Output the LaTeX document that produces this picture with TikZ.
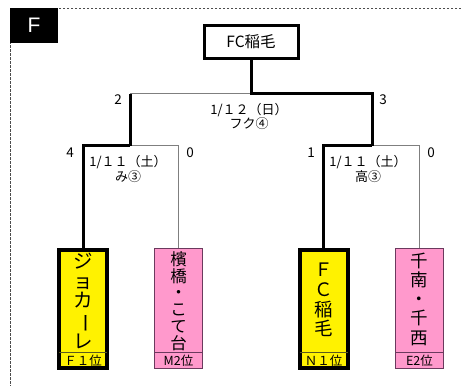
\documentclass[tikz,border=0pt]{standalone}
\usepackage{fontspec}
\usepackage{graphicx}
\setmainfont{Noto Sans CJK JP}
\newfontfamily\latinf{Liberation Sans}
\definecolor{yel}{HTML}{FFF200}
\definecolor{pnk}{HTML}{FF99CC}
\definecolor{pbd}{HTML}{6B3A5E}
\definecolor{lgray}{HTML}{7F7F7F}
\definecolor{ysep}{HTML}{5A5A20}
\newcommand{\vbar}{\rotatebox[origin=c]{-90}{ー}}
\begin{document}
\begin{tikzpicture}[x=1pt,y=-1pt,
  win/.style={line width=3pt, black, line join=miter},
  lose/.style={line width=1pt, lgray},
  ybox/.style={draw=black, line width=4pt, fill=yel, minimum width=48pt, minimum height=118.5pt, inner sep=0pt},
  pbox/.style={draw=pbd, line width=1.2pt, fill=pnk, minimum width=47.8pt, minimum height=120pt, inner sep=0pt},
  score/.style={font=\fontsize{13.5}{13.5}\selectfont, inner sep=0pt, text=black},
  datel/.style={font=\fontsize{13}{12}\selectfont, inner sep=0pt, align=center, text=black},
  rank/.style={font=\fontsize{12.5}{12.5}\selectfont, inner sep=0pt, text=black},
  vname/.style={inner sep=0pt, align=center, text=black},
  ysepl/.style={draw=ysep, line width=1pt, shorten <=2pt, shorten >=2pt},
  psepl/.style={draw=pbd, line width=1pt, shorten <=0.6pt, shorten >=0.6pt}
]
\useasboundingbox (0,0) rectangle (461,386);
% dashed frame
\draw[dash pattern=on 2.5pt off 1.5pt, line width=1pt, black!70] (461,8) -- (10,8) -- (10,386);
% title tag
\node[fill=black, text=white, minimum width=48pt, minimum height=35pt, inner sep=0pt,
      font=\latinf\fontsize{21}{21}\selectfont] (flab) at (34,25) {F};
% top box
\node[draw, line width=3pt, minimum width=94pt, minimum height=33pt, inner sep=0pt,
      font=\fontsize{15.5}{15.5}\selectfont] (top) at (251,42) {FC稲毛};
% team boxes
\node[ybox] (jo) at (83.2,308.75) {};
\node[pbox] (seki) at (178.5,308.5) {};
\node[ybox] (fcn) at (323.6,308.75) {};
\node[pbox] (chi) at (419.5,308.5) {};
\coordinate (sepy) at (0,352);
\draw[ysepl] (jo.west |- sepy) -- (jo.east |- sepy);
\draw[psepl] (seki.west |- sepy) -- (seki.east |- sepy);
\draw[ysepl] (fcn.west |- sepy) -- (fcn.east |- sepy);
\draw[psepl] (chi.west |- sepy) -- (chi.east |- sepy);
% names
\node[vname, font=\fontsize{19.5}{19.5}\selectfont] (jon) at (83.2,301) {ジ\\ョ\\カ\\\vbar\\レ};
\node[vname, font=\fontsize{16.5}{16.7}\selectfont] (sekin) at (178.5,301) {檳\\橋\\・\\こ\\て\\台};
\node[vname, font=\fontsize{18.5}{19.8}\selectfont] (fcnn) at (323.6,300) {Ｆ\\Ｃ\\稲\\毛};
\node[vname, font=\fontsize{17.5}{19.25}\selectfont] (chin) at (419.5,299) {千\\南\\・\\千\\西};
% ranks
\node[rank] (jor) at (83.2,361) {Ｆ１位};
\node[rank] (sekir) at (178.5,361) {M2位};
\node[rank] (fcnr) at (323.6,361) {Ｎ１位};
\node[rank] (chir) at (419.5,361) {E2位};
% bracket coordinates
\coordinate (fl) at (130,93.5);
\coordinate (fr) at (372,93.5);
\coordinate (sl) at (130,145.5);
\coordinate (sr) at (372,145.5);
% losing lines
\draw[lose] (top.south |- fl) -- (fl);
\draw[lose] (seki.north) |- (sl);
\draw[lose] (chi.north) |- (sr);
% winning lines
\draw[win] (fl) -- (sl);
\draw[win] (top.south) |- (fr) -- (sr);
\draw[win] (jo.north) |- (sl);
\draw[win] (fcn.north) |- (sr);
% scores
\node[score] (s2) at (118,100) {2};
\node[score] (s3) at (383,100) {3};
\node[score] (s4) at (70,153) {4};
\node[score] (s0a) at (190,153) {0};
\node[score] (s1) at (311,153) {1};
\node[score] (s0b) at (431,153) {0};
% dates
\node[datel, font=\fontsize{13}{11.5}\selectfont] (dfin) at (249,116.5) {1/１２（日）\\フク④};
\node[datel] (dl) at (128,169) {1/１１（土）\\み③};
\node[datel] (dr) at (368,169) {1/１１（土）\\高③};
\end{tikzpicture}
\end{document}
